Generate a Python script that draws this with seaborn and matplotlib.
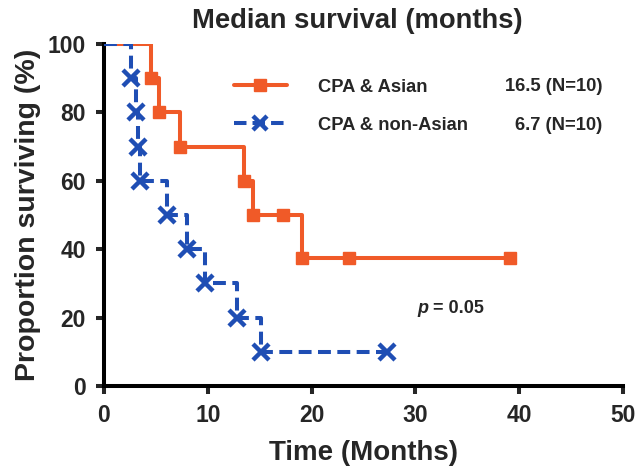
import matplotlib
matplotlib.use("Agg")
import matplotlib.pyplot as plt
import seaborn as sns
import pandas as pd
from matplotlib.lines import Line2D

# ---- data ----
asian_time = [0, 4.5, 5.3, 7.3, 13.5, 14.4, 17.2, 19.1, 23.6, 39.1]
asian_surv = [100, 90, 80, 70, 60, 50, 50, 37.5, 37.5, 37.5]
nonasian_time = [0, 2.6, 3.1, 3.3, 3.5, 6.1, 8.0, 9.7, 12.8, 15.1, 27.3]
nonasian_surv = [100, 90, 80, 70, 60, 50, 40, 30, 20, 10, 10]
group_labels = ["CPA & Asian", "CPA & non-Asian"]
median_labels = ["16.5 (N=10)", "6.7 (N=10)"]
x_ticks = [0, 10, 20, 30, 40, 50]
y_ticks = [0, 20, 40, 60, 80, 100]
p_label = "0.05"

ORANGE = "#F05A28"
BLUE = "#1F4EB4"

sns.set_theme(style="ticks")
plt.rcParams["font.family"] = ["Liberation Sans", "DejaVu Sans"]
plt.rcParams["font.weight"] = "bold"

df_a = pd.DataFrame({"t": asian_time, "s": asian_surv})
df_n = pd.DataFrame({"t": nonasian_time, "s": nonasian_surv})

fig = plt.figure(figsize=(6.41, 4.71), dpi=100)
ax = fig.add_axes([0.1622, 0.1805, 0.8097, 0.726])

LW = 2.9
sns.lineplot(data=df_a, x="t", y="s", ax=ax, color=ORANGE, lw=LW,
             drawstyle="steps-post", estimator=None, sort=False, zorder=3)
sns.lineplot(data=df_n, x="t", y="s", ax=ax, color=BLUE, lw=LW,
             drawstyle="steps-post", estimator=None, sort=False,
             dashes=False, zorder=3).lines[-1].set_dashes([3.2, 1.6])
ax.plot(df_a["t"].iloc[1:], df_a["s"].iloc[1:], ls="none", marker="s",
        ms=8.5, color=ORANGE, zorder=4)
ax.plot(df_n["t"].iloc[1:], df_n["s"].iloc[1:], ls="none", marker="x",
        ms=11, mew=3.2, color=BLUE, zorder=4)

ax.set_xlim(0, 50)
ax.set_ylim(0, 100)
ax.set_xticks(x_ticks)
ax.set_yticks(y_ticks)
ax.tick_params(axis="both", labelsize=16.5, width=2.9, length=6, pad=7)
for lab in ax.get_xticklabels() + ax.get_yticklabels():
    lab.set_fontweight("bold")
for side in ["top", "right"]:
    ax.spines[side].set_visible(False)
for side in ["left", "bottom"]:
    ax.spines[side].set_linewidth(2.9)
    ax.spines[side].set_color("black")
ax.set_xlabel("Time (Months)", fontsize=20, fontweight="bold", labelpad=9)
ax.set_ylabel("Proportion surviving (%)", fontsize=20.5, fontweight="bold", labelpad=5)
fig.text(0.557, 0.956, "Median survival (months)", fontsize=19.7, fontweight="bold",
         ha="center", va="center")

handles = [Line2D([], [], color=ORANGE, lw=LW, marker="s", ms=8.5),
           Line2D([], [], color=BLUE, lw=LW, marker="x", ms=10, mew=3.2,
                  ls=(0, (3.1, 1.5)))]
leg = ax.legend(handles, group_labels, loc="center left", bbox_to_anchor=(0.237, 0.818),
                frameon=False, fontsize=13.2, handlelength=2.85, handletextpad=1.7,
                labelspacing=1.15, borderaxespad=0)
for t in leg.get_texts():
    t.set_fontweight("bold")
ax.text(0.96, 0.877, median_labels[0], transform=ax.transAxes, ha="right",
        va="center", fontsize=13.2, fontweight="bold")
ax.text(0.96, 0.763, median_labels[1], transform=ax.transAxes, ha="right",
        va="center", fontsize=13.2, fontweight="bold")

ax.text(0.603, 0.228, "p", transform=ax.transAxes, ha="left", va="center",
        fontsize=13, fontweight="bold", style="italic")
ax.text(0.634, 0.228, "= " + p_label, transform=ax.transAxes, ha="left",
        va="center", fontsize=13, fontweight="bold")

fig.savefig("out.png", dpi=100)
